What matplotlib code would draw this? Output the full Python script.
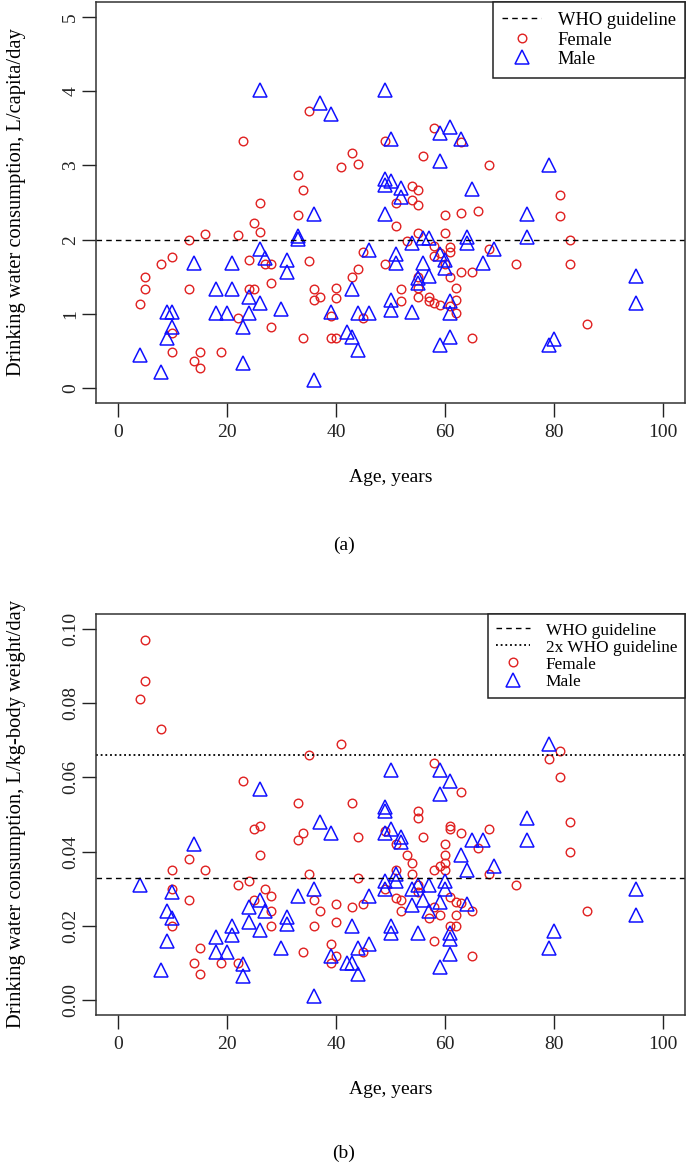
import matplotlib
matplotlib.use("Agg")
import matplotlib.pyplot as plt
from matplotlib.lines import Line2D

plt.rcParams["font.family"] = ["Liberation Serif", "DejaVu Serif"]

# panel (a): L/capita/day
fem_age_a = [23, 33, 26, 35, 58, 49, 63, 43, 44, 41, 56, 68, 34, 54, 55, 51, 54, 55, 81, 33,
             25, 26, 13, 16, 22, 27, 28, 24, 10, 8, 5, 5, 13, 24, 25, 28, 4, 22, 28, 10,
             34, 10, 15, 19, 14, 15,
             51, 60, 63, 66, 55, 60, 53, 68, 58, 61, 61, 59, 58, 45, 35, 49, 60, 63, 65, 61,
             44, 43, 55, 55, 52, 62, 36, 40, 36, 37, 40, 52, 55, 57, 57, 58, 59, 62, 62, 61,
             39, 45, 39, 40, 65, 81, 83, 73, 83, 86]
fem_val_a = [3.33, 2.87, 2.5, 3.73, 3.50, 3.33, 3.31, 3.17, 3.02, 2.98, 3.12, 3.01, 2.67, 2.72, 2.67, 2.5, 2.54, 2.46, 2.6, 2.33,
             2.23, 2.1, 2.0, 2.08, 2.06, 1.67, 1.67, 1.73, 1.76, 1.67, 1.5, 1.33, 1.33, 1.33, 1.33, 1.41, 1.13, 0.95, 0.82, 0.74,
             0.67, 0.49, 0.49, 0.49, 0.37, 0.27,
             2.19, 2.33, 2.36, 2.39, 2.09, 2.09, 1.98, 1.87, 1.91, 1.9, 1.84, 1.82, 1.78, 1.84, 1.71, 1.67, 1.67, 1.57, 1.57, 1.5,
             1.6, 1.5, 1.5, 1.35, 1.34, 1.35, 1.34, 1.35, 1.19, 1.23, 1.21, 1.17, 1.23, 1.23, 1.17, 1.14, 1.12, 1.19, 1.01, 1.1,
             0.97, 0.94, 0.67, 0.67, 0.67, 2.32, 2.0, 1.67, 1.67, 0.86]

male_age_a = [26, 49, 37, 39, 59, 61, 50, 63, 59, 49, 50, 49, 52, 52, 65, 36, 79, 49, 33, 33,
              26, 27, 31, 31, 14, 21, 18, 21, 24, 26, 30, 9, 10, 18, 20, 24, 23, 10, 9, 4,
              23, 8,
              54, 56, 57, 64, 64, 69, 59, 46, 51, 51, 56, 60, 60, 67, 57, 55, 55, 43, 50, 50,
              61, 61, 54, 39, 44, 46, 42, 43, 44, 59, 61, 36, 75, 75, 95, 95, 80, 79]
male_val_a = [4.02, 4.02, 3.84, 3.69, 3.44, 3.52, 3.35, 3.35, 3.06, 2.81, 2.79, 2.74, 2.69, 2.58, 2.68, 2.35, 3.0, 2.35, 2.05, 2.01,
              1.88, 1.75, 1.73, 1.57, 1.68, 1.68, 1.34, 1.34, 1.23, 1.15, 1.06, 1.02, 1.02, 1.01, 1.01, 1.01, 0.82, 0.82, 0.68, 0.45,
              0.34, 0.22,
              1.96, 2.02, 2.02, 2.04, 1.96, 1.88, 1.8, 1.86, 1.8, 1.68, 1.68, 1.73, 1.62, 1.68, 1.51, 1.48, 1.42, 1.34, 1.19, 1.05,
              1.17, 1.01, 1.03, 1.03, 1.01, 1.01, 0.76, 0.69, 0.51, 0.58, 0.69, 0.11, 2.35, 2.03, 1.51, 1.15, 0.66, 0.58]

# panel (b): L/kg-body weight/day
fem_age_b = [5, 5, 4, 8, 23, 33, 35, 41, 58, 63, 43, 79, 81, 81,
             25, 26, 33, 26, 13, 10, 16, 22, 24, 10, 13, 27, 28, 25, 28, 10, 28, 15, 14, 15,
             19, 22, 34,
             55, 55, 34, 44, 49, 51, 56, 61, 61, 63, 68, 66, 60, 60, 60, 60, 59, 58, 53, 54,
             54, 51, 68, 35, 44, 49, 55, 55, 36, 51, 52, 45, 43, 40, 37, 36, 40, 52, 58, 57,
             59, 61, 62, 63, 65, 62, 61, 62, 58, 65, 39, 40, 39, 45,
             83, 83, 73, 86]
fem_val_b = [0.097, 0.086, 0.081, 0.073, 0.059, 0.053, 0.066, 0.069, 0.064, 0.056, 0.053, 0.065, 0.067, 0.06,
             0.046, 0.047, 0.043, 0.039, 0.038, 0.035, 0.035, 0.031, 0.032, 0.03, 0.027, 0.03, 0.028, 0.027, 0.024, 0.02,
             0.02, 0.014, 0.01, 0.007, 0.01, 0.01, 0.013,
             0.051, 0.049, 0.045, 0.044, 0.0455, 0.042, 0.044, 0.047, 0.046, 0.045, 0.046, 0.041, 0.042, 0.039, 0.037, 0.035,
             0.036, 0.035, 0.039, 0.037, 0.034, 0.035, 0.034, 0.034, 0.033, 0.03, 0.031, 0.029, 0.027, 0.0275, 0.027, 0.026,
             0.025, 0.026, 0.024, 0.02, 0.021, 0.024, 0.025, 0.022, 0.023, 0.0277, 0.0264, 0.0261, 0.024, 0.023, 0.02, 0.02,
             0.016, 0.012, 0.015, 0.012, 0.01, 0.013,
             0.048, 0.04, 0.031, 0.024]

male_age_b = [26, 50, 59, 61, 59, 49, 79,
              14, 4, 10, 26, 24, 27, 33, 31, 31, 9, 10, 9, 24, 26, 21, 21, 18, 18, 20, 30, 23, 23, 8,
              49, 37, 39, 49, 50, 52, 52, 65, 67, 63, 51, 69, 64, 49, 51, 49, 54, 57, 55, 60, 60, 36,
              46, 43, 54, 56, 59, 57, 64, 61, 61, 50, 50, 55, 61, 59, 39, 44, 46, 42, 43, 44, 36,
              75, 75, 95, 95, 80, 79]
male_val_b = [0.057, 0.062, 0.062, 0.059, 0.0555, 0.052, 0.069,
              0.042, 0.031, 0.029, 0.027, 0.025, 0.024, 0.028, 0.0225, 0.0205, 0.024, 0.022, 0.016, 0.021, 0.019, 0.02,
              0.0175, 0.017, 0.013, 0.013, 0.014, 0.0097, 0.0064, 0.008,
              0.051, 0.048, 0.045, 0.045, 0.046, 0.044, 0.0425, 0.043, 0.043, 0.039, 0.034, 0.036, 0.035, 0.032, 0.032,
              0.03, 0.03, 0.031, 0.031, 0.032, 0.03, 0.03,
              0.028, 0.02, 0.0255, 0.027, 0.0265, 0.024, 0.026, 0.018, 0.0165, 0.02, 0.018, 0.018, 0.0125, 0.009, 0.012,
              0.014, 0.015, 0.01, 0.01, 0.007, 0.001,
              0.049, 0.043, 0.03, 0.023, 0.0185, 0.014]

who_a = 2.0
who_b = 0.033
x_ticks = [0, 20, 40, 60, 80, 100]
y_ticks_a = [0, 1, 2, 3, 4, 5]
y_ticks_b = [0.00, 0.02, 0.04, 0.06, 0.08, 0.10]

RED = "#e02020"
BLUE = "#1010ff"
FS = 14
W, H = 688, 1167


def style_axes(ax):
    for s in ax.spines.values():
        s.set_linewidth(1.1)
        s.set_color("#333333")
    ax.tick_params(direction="out", length=10, width=1.0, labelsize=FS, colors="#222222")
    ax.tick_params(axis="x", pad=5)
    ax.tick_params(axis="y", pad=2)
    ax.set_xlim(-4, 104)
    ax.set_xticks(x_ticks)
    ax.yaxis.set_label_coords((26 - 96) / (685 - 96), 0.5)


def points(ax, fa, fv, ma, mv):
    ax.plot(fa, fv, linestyle="none", marker="o", markersize=6.2, markerfacecolor="none",
            markeredgecolor=RED, markeredgewidth=1.0)
    ax.plot(ma, mv, linestyle="none", marker="^", markersize=9.5, markerfacecolor="none",
            markeredgecolor=BLUE, markeredgewidth=1.1)


def handles(two_lines):
    h = [Line2D([], [], color="black", linewidth=1.0, linestyle=(0, (4, 3)))]
    if two_lines:
        h.append(Line2D([], [], color="black", linewidth=1.3, linestyle=(0, (1, 1.6))))
    h.append(Line2D([], [], linestyle="none", marker="o", markersize=6.2, markerfacecolor="none",
                    markeredgecolor=RED))
    h.append(Line2D([], [], linestyle="none", marker="^", markersize=9.5, markerfacecolor="none",
                    markeredgecolor=BLUE, markeredgewidth=1.1))
    return h


fig = plt.figure(figsize=(W / 100, H / 100), dpi=100)

# ---- (a)
ax1 = fig.add_axes([96 / W, 1 - 403 / H, (685 - 96) / W, (403 - 2) / H])
points(ax1, fem_age_a, fem_val_a, male_age_a, male_val_a)
ax1.axhline(who_a, color="black", linewidth=1.0, linestyle=(0, (4, 3)))
style_axes(ax1)
ax1.set_ylim(-0.2, 5.2)
ax1.set_yticks(y_ticks_a)
ax1.set_yticklabels([str(v) for v in y_ticks_a], rotation=90, va="center")
ax1.set_xlabel("Age, years", fontsize=FS, labelpad=20)
ax1.set_ylabel("Drinking water consumption, L/capita/day", fontsize=14.8)

leg = ax1.legend(handles(False), ["WHO guideline", "Female", "Male"], loc="upper right",
                 fontsize=13.3, frameon=True, fancybox=False, framealpha=1, edgecolor="#222222",
                 borderaxespad=0, labelspacing=0.08, handlelength=2.1, handletextpad=0.9,
                 borderpad=0.5, handleheight=0.9)
leg.get_frame().set_linewidth(1.1)

fig.text(344 / W, 1 - 545 / H, "(a)", ha="center", va="center", fontsize=FS)

# ---- (b)
ax2 = fig.add_axes([96 / W, 1 - 1015 / H, (685 - 96) / W, (1015 - 614) / H])
points(ax2, fem_age_b, fem_val_b, male_age_b, male_val_b)
ax2.axhline(who_b, color="black", linewidth=1.0, linestyle=(0, (4, 3)))
ax2.axhline(2 * who_b, color="black", linewidth=1.3, linestyle=(0, (1, 1.6)))
style_axes(ax2)
ax2.set_ylim(-0.004, 0.104)
ax2.set_yticks(y_ticks_b)
ax2.set_yticklabels(["%.2f" % v for v in y_ticks_b], rotation=90, va="center")
ax2.set_xlabel("Age, years", fontsize=FS, labelpad=20)
ax2.set_ylabel("Drinking water consumption, L/kg-body weight/day", fontsize=14.8)

leg = ax2.legend(handles(True), ["WHO guideline", "2x WHO guideline", "Female", "Male"],
                 loc="upper right", fontsize=12.4, frameon=True, fancybox=False, framealpha=1,
                 edgecolor="#222222", borderaxespad=0, labelspacing=0.0, handlelength=2.0,
                 handletextpad=0.9, borderpad=0.45, handleheight=0.9)
leg.get_frame().set_linewidth(1.1)

fig.text(344 / W, 1 - 1153 / H, "(b)", ha="center", va="center", fontsize=FS)

fig.savefig("out.png", dpi=100)
